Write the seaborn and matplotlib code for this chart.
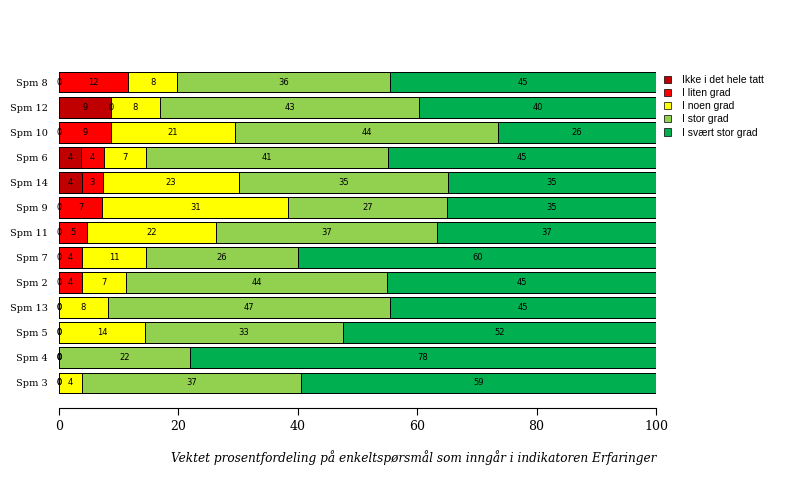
import numpy as np
import pandas as pd
import matplotlib
matplotlib.use("Agg")
import matplotlib.pyplot as plt
from matplotlib.patches import Patch
import seaborn as sns

# values (percent per response category)
questions = ["Spm 8", "Spm 12", "Spm 10", "Spm 6", "Spm 14", "Spm 9", "Spm 11",
             "Spm 7", "Spm 2", "Spm 13", "Spm 5", "Spm 4", "Spm 3"]
ikke_i_det_hele_tatt = [0, 8.7, 0, 3.7, 3.9, 0, 0, 0, 0, 0, 0, 0, 0]
i_liten_grad = [11.6, 0, 8.7, 3.9, 3.4, 7.2, 4.7, 3.9, 3.9, 0, 0, 0, 0]
i_noen_grad = [8.2, 8.2, 20.8, 6.9, 22.8, 31.2, 21.6, 10.6, 7.4, 8.2, 14.4, 0, 3.9]
i_stor_grad = [35.6, 43.4, 44.1, 40.6, 35.0, 26.6, 37.0, 25.6, 43.7, 47.2, 33.2, 21.9, 36.7]
i_svaert_stor_grad = [44.6, 39.7, 26.4, 44.9, 34.9, 35.0, 36.7, 59.9, 45.0, 44.6, 52.4, 78.1, 59.4]

categories = ["Ikke i det hele tatt", "I liten grad", "I noen grad", "I stor grad", "I svært stor grad"]
colors = ["#C00000", "#FF0000", "#FFFF00", "#92D050", "#00B050"]

values = np.array([ikke_i_det_hele_tatt, i_liten_grad, i_noen_grad, i_stor_grad, i_svaert_stor_grad])
cum = values.cumsum(axis=0)

rows = []
for i, cat in enumerate(categories):
    for j, q in enumerate(questions):
        rows.append({"question": q, "category": cat, "value": values[i, j], "cum": cum[i, j]})
df = pd.DataFrame(rows)

sns.set_style("white")
plt.rcParams["font.family"] = ["DejaVu Serif"]
plt.rcParams["text.color"] = "black"
plt.rcParams["axes.labelcolor"] = "black"
plt.rcParams["xtick.color"] = "black"
plt.rcParams["ytick.color"] = "black"

fig = plt.figure(figsize=(8, 4.8), dpi=100)
ax = fig.add_axes([59 / 800, 1 - 398 / 480, 597 / 800, 331 / 480])

# stacked bars: draw the longest cumulative bar first, then overlay shorter ones
for i in range(len(categories) - 1, -1, -1):
    sub = df[df["category"] == categories[i]]
    sns.barplot(data=sub, x="cum", y="question", order=questions, orient="h",
                color=colors[i], saturation=1, edgecolor="black", linewidth=0.7,
                width=0.83, errorbar=None, ax=ax)

for _, r in df.iterrows():
    ax.text(r["cum"] - r["value"] / 2, questions.index(r["question"]), f"{r['value']:.0f}",
            ha="center", va="center", fontsize=6, family="DejaVu Sans", color="black")

ax.set_xlim(0, 100)
ax.set_ylim(12.6, -0.6)
ax.set_xticks([0, 20, 40, 60, 80, 100])
ax.set_ylabel("")
ax.set_xlabel("Vektet prosentfordeling på enkeltspørsmål som inngår i indikatoren Erfaringer",
              loc="right", fontsize=8.7, style="italic", labelpad=12)
for s in ["left", "top", "right"]:
    ax.spines[s].set_visible(False)
ax.spines["bottom"].set_position(("outward", 7))
ax.spines["bottom"].set_color("black")
ax.spines["bottom"].set_linewidth(0.8)
ax.tick_params(axis="x", direction="out", length=5, width=0.8, color="black",
               labelsize=9, bottom=True, pad=4)
ax.tick_params(axis="y", length=0, labelsize=7, pad=8)

handles = [Patch(facecolor=c, edgecolor="black", linewidth=0.5) for c in colors]
fig.legend(handles, categories, loc="upper left", bbox_to_anchor=(664 / 800, 1 - 75 / 480),
           frameon=False, prop={"family": "Liberation Sans", "size": 7.5},
           handlelength=0.7, handleheight=0.7, handletextpad=1.0, labelspacing=0.3,
           borderaxespad=0, borderpad=0)

fig.savefig("out.png", dpi=100)
